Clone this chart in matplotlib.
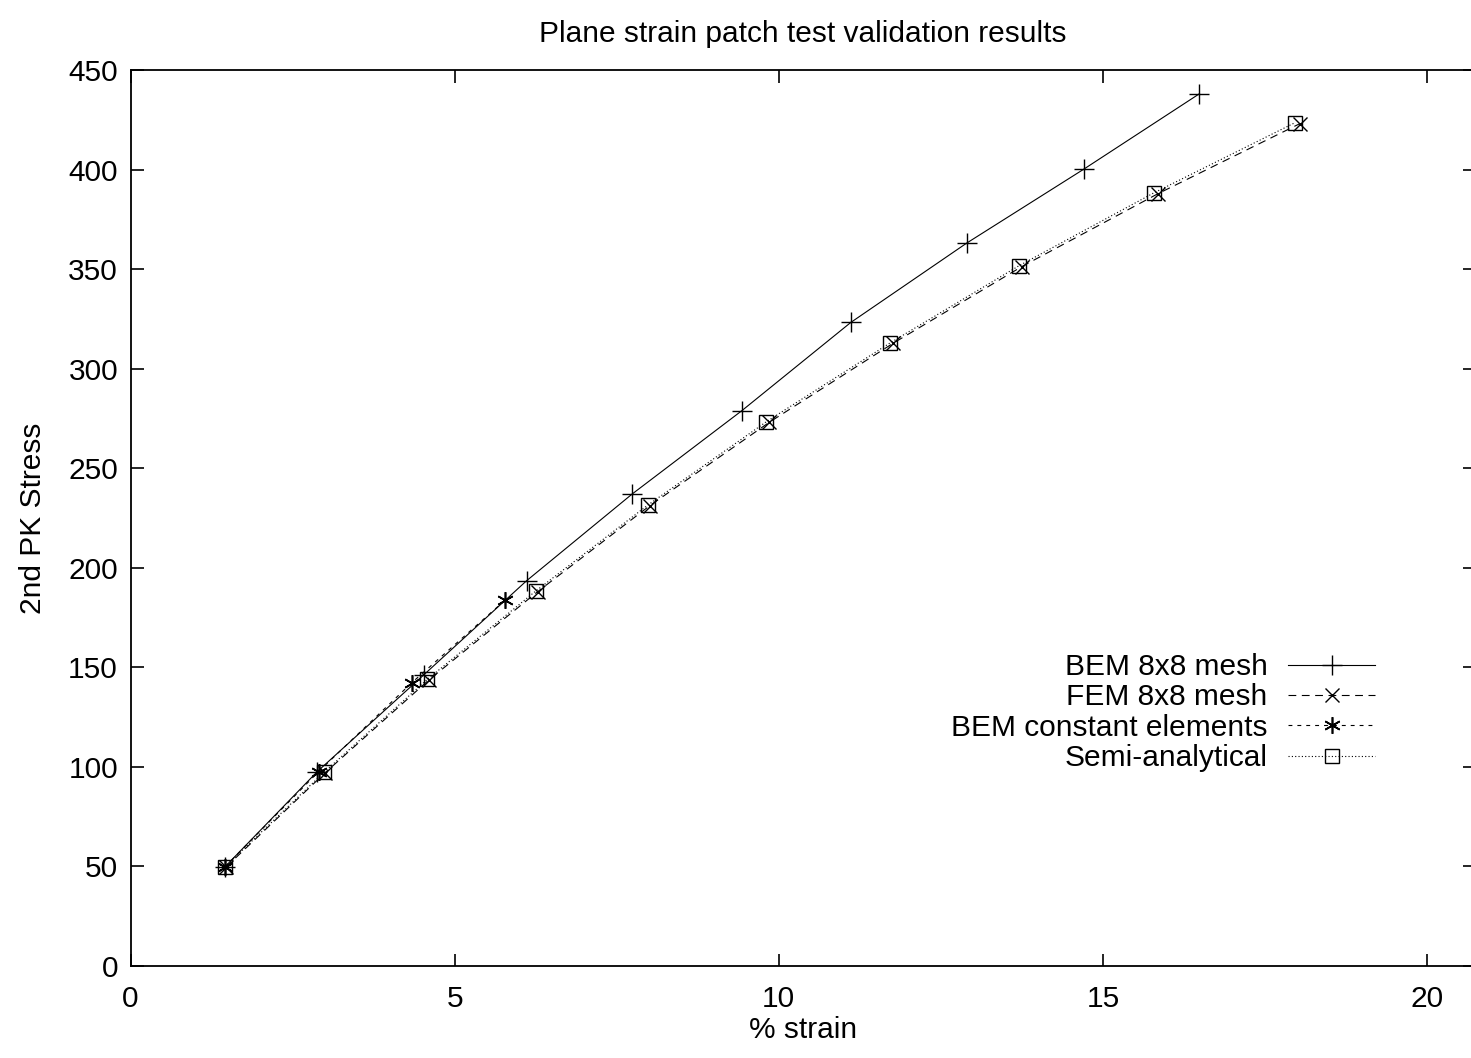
import matplotlib
matplotlib.use("Agg")
from matplotlib import pyplot as plt
from matplotlib.lines import Line2D

plt.rcParams["font.family"] = ["Liberation Sans", "DejaVu Sans"]

# % strain / 2nd PK stress
bem8_x = [1.46, 2.88, 4.52, 6.11, 7.74, 9.43, 11.11, 12.90, 14.70, 16.48]
bem8_y = [49.9, 97.6, 146.1, 193.5, 237.1, 278.9, 323.2, 363.1, 400.1, 437.9]

fem8_x = [1.47, 3.00, 4.60, 6.28, 8.01, 9.85, 11.76, 13.75, 15.85, 18.04]
fem8_y = [49.6, 97.0, 143.6, 188.0, 231.2, 273.0, 312.7, 351.3, 387.9, 423.1]

bemc_x = [1.46, 2.90, 4.34, 5.78]
bemc_y = [49.9, 97.6, 142.3, 183.8]

semi_x = [1.46, 2.985, 4.58, 6.25, 7.98, 9.81, 11.72, 13.70, 15.78, 17.96]
semi_y = [49.9, 97.3, 144.0, 188.3, 231.5, 273.4, 313.0, 351.6, 388.2, 423.5]

labels = ["BEM 8x8 mesh", "FEM 8x8 mesh", "BEM constant elements", "Semi-analytical"]

FS = 21.5
W, H = 1471, 1058
fig = plt.figure(figsize=(W / 100, H / 100), dpi=100)
left, right, bottom, top = 130.5, 1475, 966, 70
ax = fig.add_axes([left / W, 1 - bottom / H, (right - left) / W, (bottom - top) / H])

lw = 0.8
ax.plot(bem8_x, bem8_y, color="black", lw=lw, ls="-", marker="+", ms=14,
        mew=1.0, label=labels[0])
ax.plot(fem8_x, fem8_y, color="black", lw=lw, ls=(0, (7, 5)), marker="x", ms=10,
        mew=1.0, label=labels[1])
ax.plot(bemc_x, bemc_y, color="black", lw=lw, ls=(0, (3.5, 4.5)), label=labels[2])
# gnuplot style asterisk: + and x overlaid
ax.plot(bemc_x, bemc_y, color="black", lw=0, marker=(6, 2, 0), ms=12, mew=1.2)
ax.plot(semi_x, semi_y, color="black", lw=lw, ls=(0, (1, 2)), marker="s", ms=10,
        mfc="none", mew=1.0, label=labels[3])

ax.set_xlim(0, (right - left) / 64.83)
ax.set_ylim(0, 450)
ax.set_xticks([0, 5, 10, 15, 20])
ax.set_yticks(range(0, 451, 50))
ax.tick_params(direction="in", length=9, width=1.2, top=True, right=True,
               labelsize=FS)
ax.tick_params(axis="x", pad=14)
ax.tick_params(axis="y", pad=9)
for s in ax.spines.values():
    s.set_linewidth(1.3)

ax.set_title("Plane strain patch test validation results", fontsize=FS, pad=20)
ax.set_xlabel("% strain", fontsize=FS)
ax.set_ylabel("2nd PK Stress", fontsize=FS)
ax.xaxis.set_label_coords(0.5, -0.056)
ax.yaxis.set_label_coords(-0.062, 0.5)

# legend handles (asterisk entry rebuilt with the overlaid marker)
handles = ax.get_legend_handles_labels()[0]
handles[2] = Line2D([], [], color="black", lw=lw, ls=(0, (3.5, 4.5)),
                    marker=(6, 2, 0), ms=12, mew=1.2)
leg = ax.legend(handles, labels, loc="upper right", markerfirst=False,
                frameon=False, fontsize=FS, handlelength=2.9, handletextpad=0.7,
                labelspacing=0.08, borderpad=0, borderaxespad=0,
                bbox_to_anchor=((1375 - left) / (right - left), 1 - (653 - top) / (bottom - top)))

fig.savefig("out.png", dpi=100)
